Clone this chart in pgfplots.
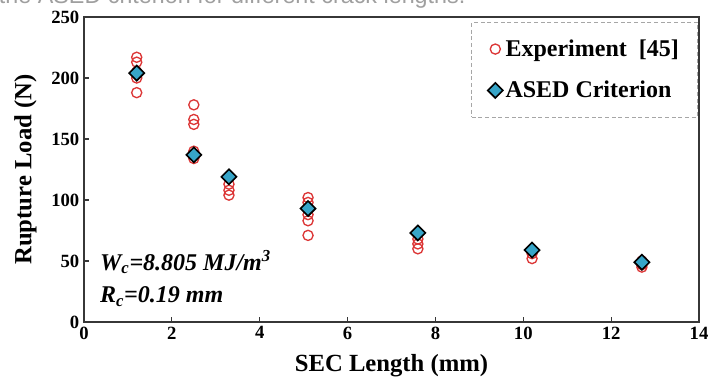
\documentclass[border=0pt]{standalone}
\usepackage{pgfplots}
\pgfplotsset{compat=1.18}
\usepackage{fontspec}
\setmainfont{Liberation Serif}
\newfontfamily\capfont{Liberation Sans}
\definecolor{expred}{RGB}{220,55,55}
\definecolor{asedfill}{RGB}{55,165,200}
\definecolor{axgray}{RGB}{55,55,55}
\begin{document}
\begin{tikzpicture}
\path[use as bounding box] (-63pt,-42.75pt) rectangle (470.25pt,241.5pt);
\node[anchor=base west, font=\capfont\fontsize{17.5}{20}\selectfont, text=gray!75, inner sep=0pt] at (-64pt,238.5pt) {the ASED criterion for different crack lengths.};
\begin{axis}[
  at={(0,0)}, anchor=south west, scale only axis,
  width=461.25pt, height=228.75pt,
  xmin=0, xmax=14, ymin=0, ymax=250,
  xtick={0,2,...,14}, ytick={0,50,...,250},
  axis line style={axgray, line width=1.5pt},
  tick style={axgray, line width=0.8pt},
  major tick length=4pt,
  tick align=inside,
  xtick pos=bottom, ytick pos=left,
  /pgf/number format/assume math mode=true,
  ticklabel style={font=\bfseries\fontsize{14}{16}\selectfont},
  xlabel={SEC Length (mm)}, ylabel={Rupture Load (N)},
  label style={font=\bfseries\fontsize{18.5}{21}\selectfont},
  xlabel style={at={(axis description cs:0.5,-0.1443)}, anchor=center},
  ylabel style={at={(axis description cs:-0.0954,0.5)}, anchor=center, rotate=0},
  legend style={at={(rel axis cs:0.9984,0.984)}, anchor=north east,
    draw=gray!70, densely dashed, line width=0.8pt,
    font=\bfseries\fontsize{18}{21}\selectfont,
    row sep=13pt, inner xsep=12pt, inner ysep=11pt},
  legend cell align=left,
]
\addplot[only marks, mark=o, mark size=3.8pt, draw=expred, line width=1pt, mark options={solid}]
coordinates {
(1.2,217)(1.2,213)(1.2,205)(1.2,200)(1.2,188)
(2.5,178)(2.5,166)(2.5,162)(2.5,140)(2.5,137)(2.5,134)
(3.3,113)(3.3,108)(3.3,104)
(5.1,102)(5.1,98)(5.1,88)(5.1,83)(5.1,71)
(7.6,68)(7.6,64)(7.6,60)
(10.2,56)(10.2,52)
(12.7,50)(12.7,47)(12.7,45)
};
\addlegendentry{Experiment\ \ [45]}
\addplot[only marks, mark=square*, mark size=4pt, mark options={solid, rotate=45, fill=asedfill, draw=black, line width=1.2pt}]
coordinates {(1.2,204)(2.5,137)(3.3,119)(5.1,93)(7.6,73)(10.2,59)(12.7,49)};
\addlegendentry{ASED Criterion}
\node[anchor=base west, font=\bfseries\itshape\fontsize{18}{21}\selectfont, inner sep=0pt] at (axis cs:0.36,42.6) {W\textsubscript{c}=8.805 MJ/m\textsuperscript{3}};
\node[anchor=base west, font=\bfseries\itshape\fontsize{18}{21}\selectfont, inner sep=0pt] at (axis cs:0.36,15.6) {R\textsubscript{c}=0.19 mm};
\end{axis}
\end{tikzpicture}
\end{document}
